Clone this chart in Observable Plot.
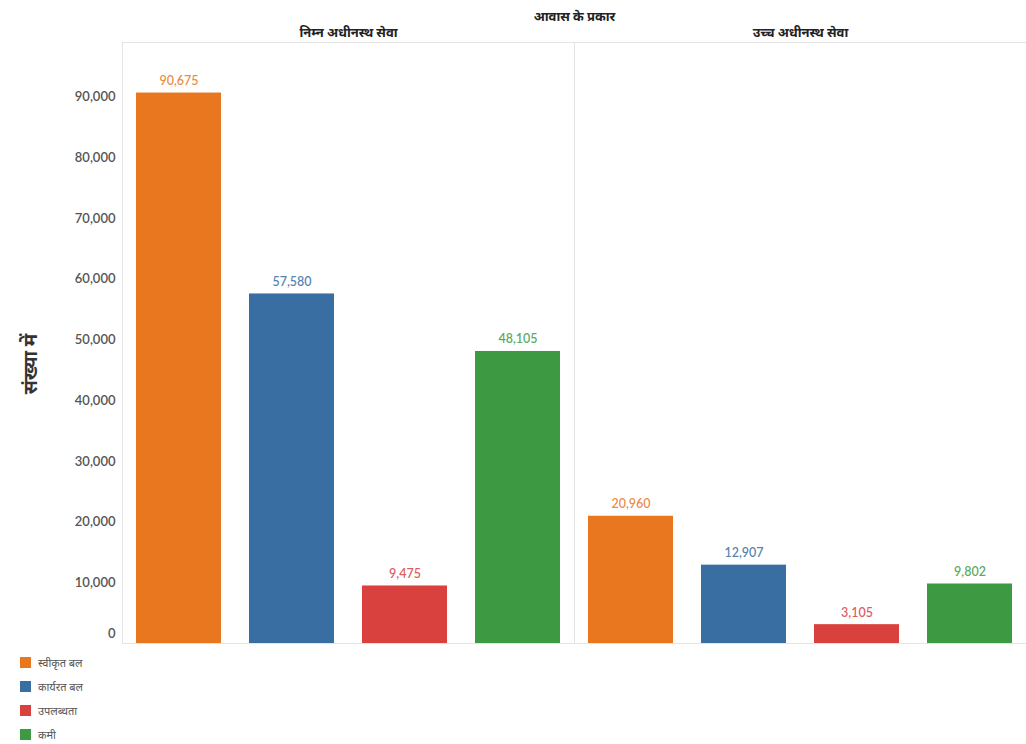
<!DOCTYPE html>
<html>
<head>
<meta charset="utf-8">
<script src="https://cdn.jsdelivr.net/npm/d3@7"></script>
<script src="https://cdn.jsdelivr.net/npm/@observablehq/plot@0.6"></script>
<style>
  body { margin: 0; background: #fff; font-family: Lato, "Noto Sans", sans-serif; }
  #wrap { position: relative; width: 1026px; height: 744px; }
  #ylabel {
    position: absolute; left: 30px; top: 364px;
    transform: translate(-50%, -50%) rotate(-90deg);
    font-size: 19px; font-weight: bold; color: #333; white-space: nowrap;
  }
  #legend { position: absolute; left: 20px; top: 650px; font-size: 11px; color: #555; }
  .item { display: flex; align-items: center; height: 24px; }
  .sw { width: 11px; height: 11px; margin-right: 7px; }
</style>
</head>
<body>
<div id="wrap">
  <div id="chart"></div>
  <div id="ylabel"></div>
  <div id="legend"></div>
</div>
<script>
// Housing: strength vs. available quarters, by service grade
const title = "आवास के प्रकार";
const yTitle = "संख्या में";
const services = ["निम्न अधीनस्थ सेवा", "उच्च अधीनस्थ सेवा"];
const series = ["स्वीकृत बल", "कार्यरत बल", "उपलब्धता", "कमी"];
const lowerValues = [90675, 57580, 9475, 48105];
const upperValues = [20960, 12907, 3105, 9802];
const colors = ["#e8771f", "#386ea1", "#d9413f", "#3d9a43"];
const yTicks = [10000, 20000, 30000, 40000, 50000, 60000, 70000, 80000, 90000];

const rows = [
  ...series.map((s, i) => ({service: services[0], series: s, value: lowerValues[i]})),
  ...series.map((s, i) => ({service: services[1], series: s, value: upperValues[i]}))
];
const fmt = d3.format(",");

const chart = Plot.plot({
  width: 1026,
  height: 647,
  marginLeft: 122,
  marginRight: 0,
  marginTop: 42,
  marginBottom: 4,
  style: {fontFamily: "Lato, 'Noto Sans', sans-serif", background: "#fff"},
  fx: {domain: services, padding: 0},
  x: {domain: series, paddingInner: 0.25, paddingOuter: 0.125},
  y: {domain: [0, 99000]},
  color: {domain: series, range: colors},
  marks: [
    Plot.frame({anchor: "left", stroke: "#e4e4e4"}),
    Plot.frame({anchor: "top", stroke: "#e4e4e4"}),
    Plot.axisFx({anchor: "top", tickSize: 0, tickPadding: 6, fontSize: 13, fontWeight: "bold",
      fill: "#222", label: title, labelAnchor: "center", labelOffset: 31, labelArrow: "none"}),
    Plot.axisX({ticks: [], label: null}),
    Plot.axisY(yTicks, {tickSize: 0, tickPadding: 7, fontSize: 13, fill: "#555",
      fontWeight: 600, tickFormat: fmt, label: null}),
    Plot.axisY([0], {tickSize: 0, tickPadding: 7, fontSize: 13, fill: "#555",
      fontWeight: 600, tickFormat: fmt, label: null, dy: -10}),
    Plot.barY(rows, {fx: "service", x: "series", y: "value", fill: "series"}),
    Plot.ruleY([0], {stroke: "#e4e4e4"}),
    Plot.text(rows, {fx: "service", x: "series", y: "value", text: d => fmt(d.value),
      fill: "series", fontSize: 12.5, fontWeight: 600, dy: -12, fillOpacity: 0.85})
  ]
});
document.getElementById("chart").append(chart);

document.getElementById("ylabel").textContent = yTitle;
const legend = document.getElementById("legend");
series.forEach((s, i) => {
  const item = document.createElement("div");
  item.className = "item";
  const sw = document.createElement("div");
  sw.className = "sw";
  sw.style.background = colors[i];
  const label = document.createElement("span");
  label.textContent = s;
  item.append(sw, label);
  legend.append(item);
});
</script>
</body>
</html>
